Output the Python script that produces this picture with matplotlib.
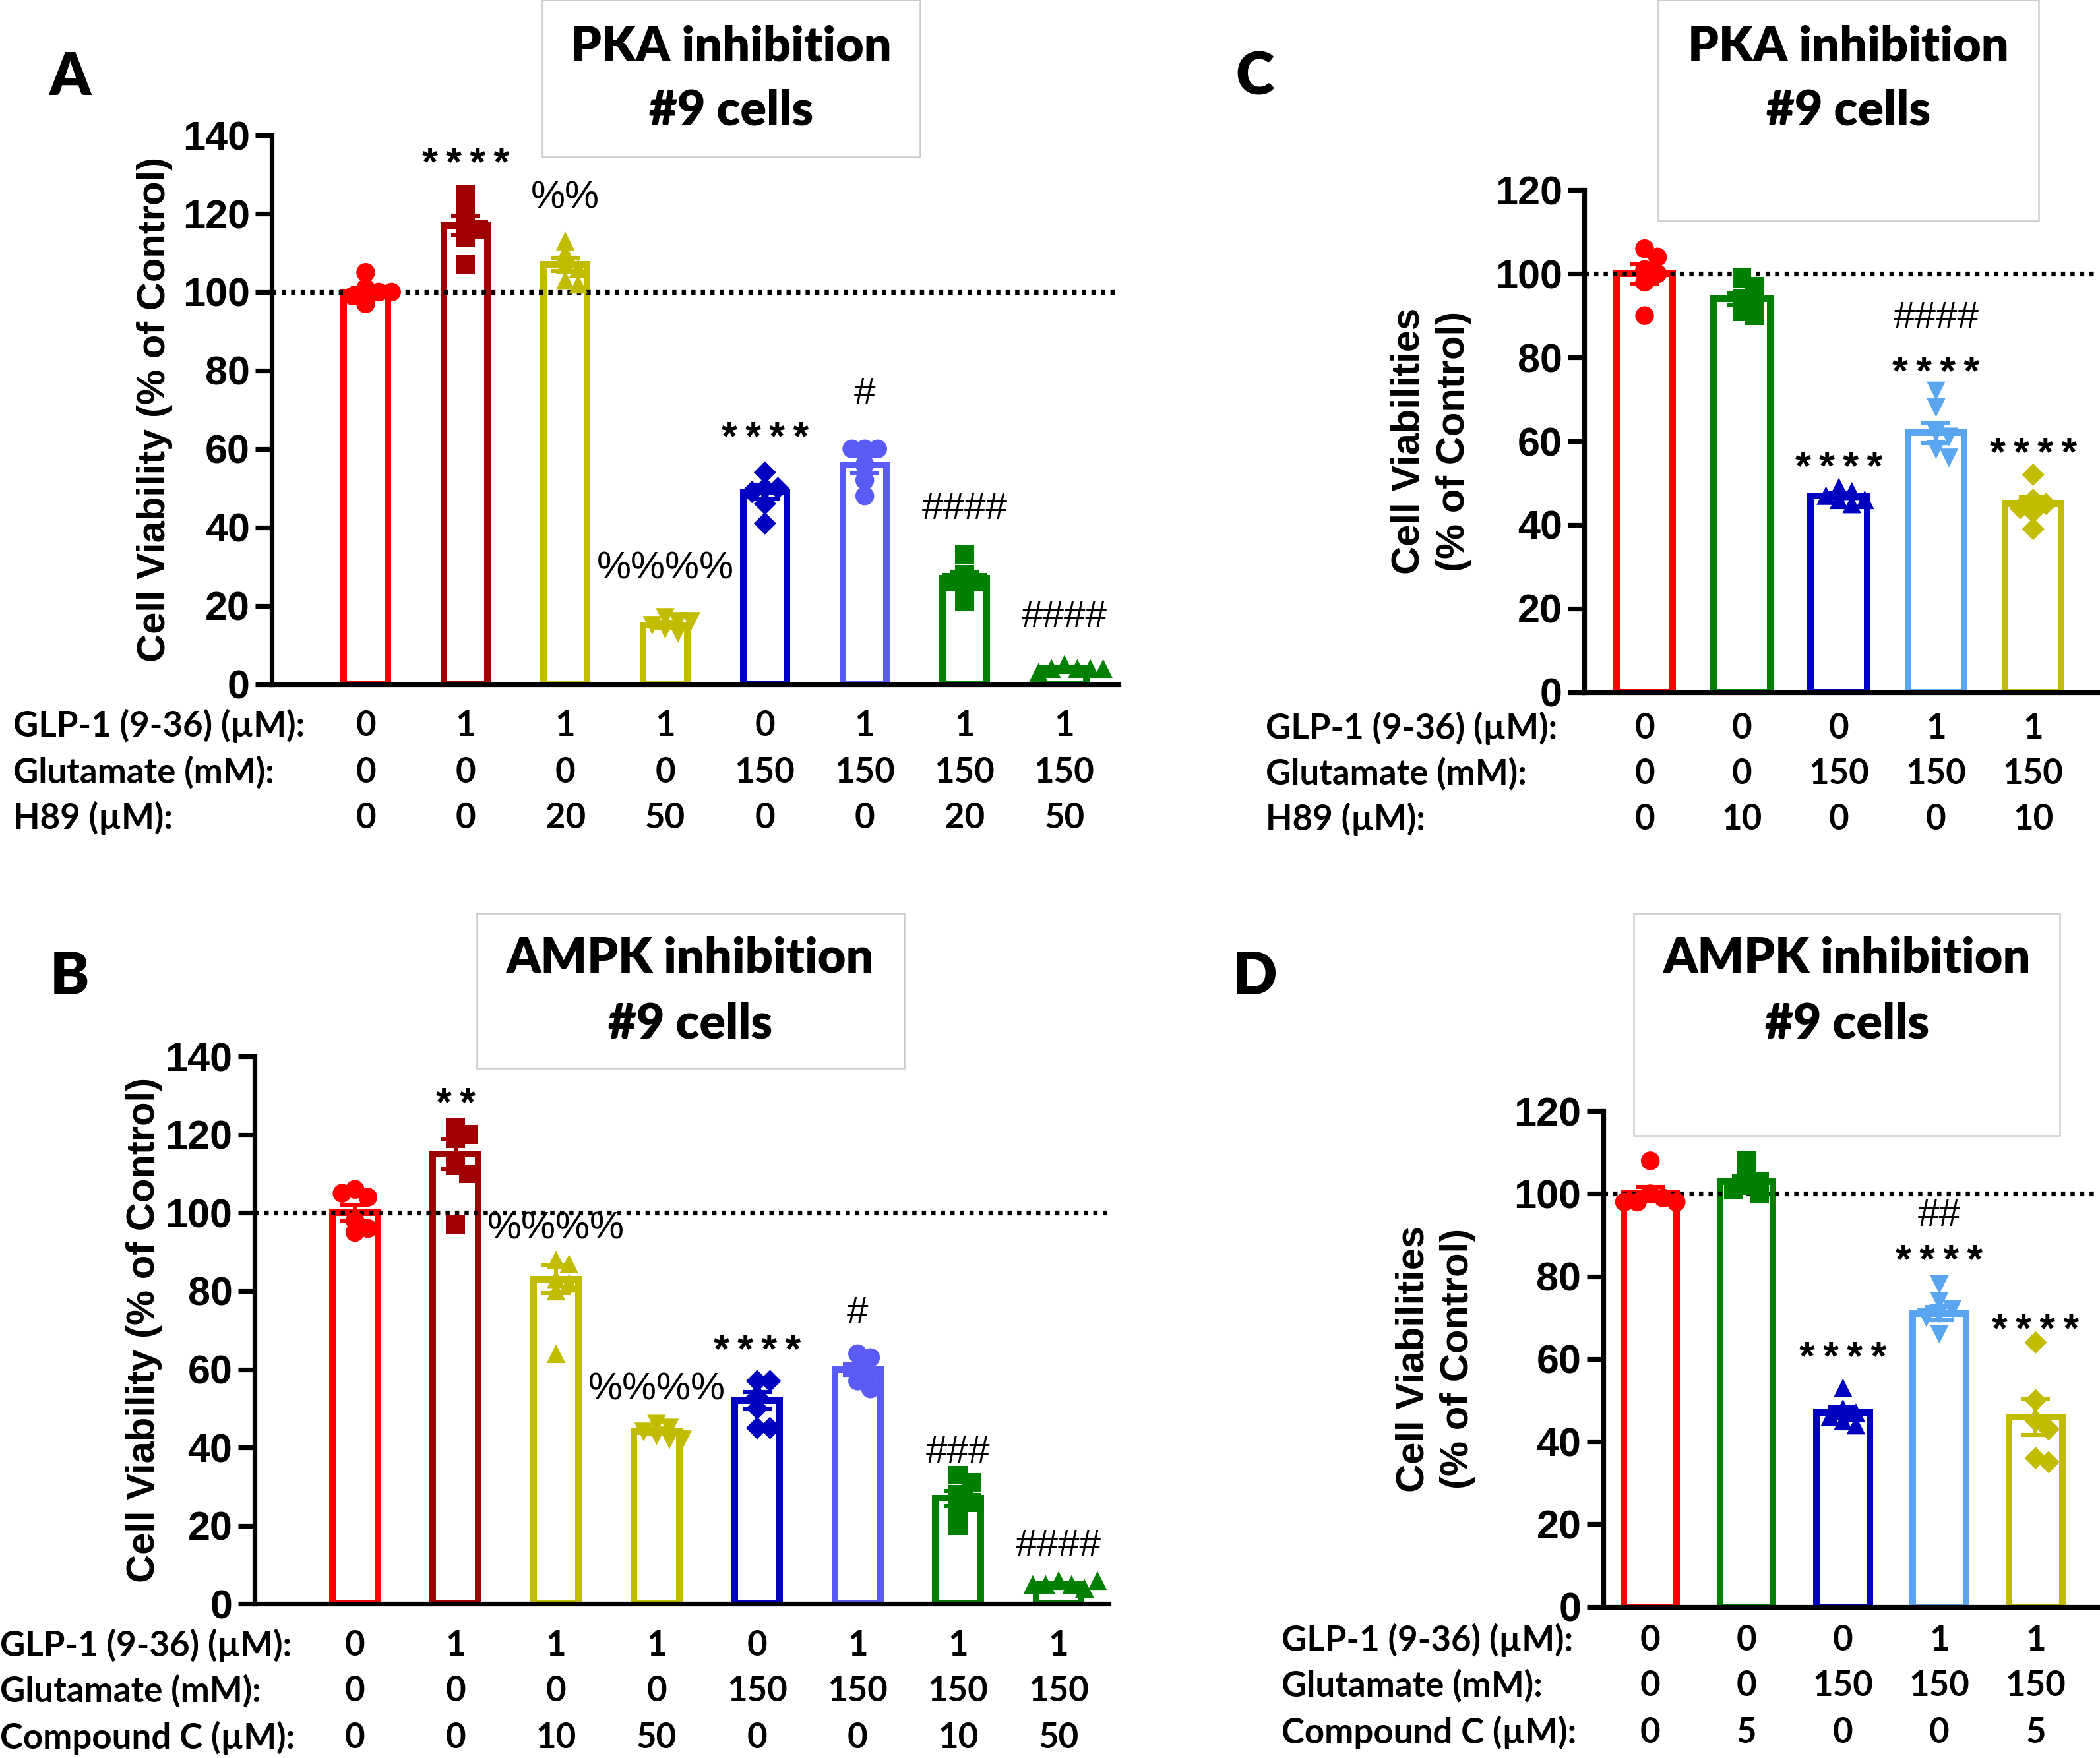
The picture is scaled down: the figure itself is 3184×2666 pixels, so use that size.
import numpy as np
import matplotlib
matplotlib.use('Agg')
import matplotlib.pyplot as plt
from matplotlib.patches import Rectangle
from matplotlib.transforms import blended_transform_factory, offset_copy

# ---------------- data ----------------
RED = '#FF0000'; DRED = '#A00000'; OLIVE = '#C2BC00'; BLUE = '#0000C0'
PERI = '#5A5AF5'; GREEN = '#008000'; SKY = '#5AA5F0'

# Panel A  (PKA inhibition, H89, 8 groups)
a_glp = ['0', '1', '1', '1', '0', '1', '1', '1']
a_glu = ['0', '0', '0', '0', '150', '150', '150', '150']
a_h89 = ['0', '0', '20', '50', '0', '0', '20', '50']
a_means = [100, 117, 107, 15, 49, 56, 27, 4]
a_points = [[105, 101, 100, 99, 97, 100], [125, 120, 117, 116, 114, 107],
            [113, 110, 107, 106, 103, 102], [17, 16, 15, 14, 13, 16],
            [54, 50, 50, 49, 46, 41], [60, 60, 60, 56, 52, 48],
            [33, 28, 26, 26, 24, 21], [5, 4, 4, 4, 3, 4]]
a_sig = ['', '****', '%%', '%%%%', '****', '#', '####', '####']
a_sig_y = [0, 135, 124, 29.4, 65, 74, 44.7, 17]

# Panel B  (AMPK inhibition, Compound C, 8 groups)
b_glp = ['0', '1', '1', '1', '0', '1', '1', '1']
b_glu = ['0', '0', '0', '0', '150', '150', '150', '150']
b_cc = ['0', '0', '10', '50', '0', '0', '10', '50']
b_means = [100, 115, 83, 44, 52, 60, 27, 5]
b_points = [[106, 104, 105, 98, 96, 95], [122, 120, 119, 112, 110, 97],
            [88, 87, 83, 82, 80, 64], [46, 45, 44, 43, 42, 42],
            [57, 57, 53, 50, 45, 45], [64, 63, 60, 59, 57, 55],
            [33, 31, 28, 26, 23, 20], [6, 5, 5, 4, 5, 6]]
b_sig = ['', '**', '%%%%', '%%%%', '****', '#', '###', '####']
b_sig_y = [0, 130, 95.9, 54.8, 67, 74.3, 38.7, 14.7]

# Panel C  (PKA inhibition, H89 10 uM, 5 groups)
c_glp = ['0', '0', '0', '1', '1']
c_glu = ['0', '0', '150', '150', '150']
c_h89 = ['0', '10', '0', '0', '10']
c_means = [100, 94, 47, 62, 45]
c_points = [[106, 104, 101, 100, 98, 90], [99, 97, 94, 93, 91, 90],
            [49, 48, 47, 46, 46, 45], [72, 68, 62, 61, 58, 56],
            [52, 46, 45, 44, 43, 39]]
c_sig = ['', '', '****', '****', '****']
c_sig_y = [0, 0, 55.7, 78.4, 59]
c_sig2 = ['', '', '', '####', '']
c_sig2_y = [0, 0, 0, 89.3, 0]

# Panel D  (AMPK inhibition, Compound C 5 uM, 5 groups)
d_glp = ['0', '0', '0', '1', '1']
d_glu = ['0', '0', '150', '150', '150']
d_cc = ['0', '5', '0', '0', '5']
d_means = [100, 103, 47, 71, 46]
d_points = [[108, 100, 99, 98, 98, 98], [108, 105, 103, 102, 101, 100],
            [53, 48, 47, 46, 45, 44], [78, 74, 72, 71, 70, 66],
            [64, 50, 45, 43, 36, 35]]
d_sig = ['', '', '****', '****', '****']
d_sig_y = [0, 0, 62.3, 85.9, 69]
d_sig2 = ['', '', '', '##', '']
d_sig2_y = [0, 0, 0, 94.7, 0]

colors8 = [RED, DRED, OLIVE, OLIVE, BLUE, PERI, GREEN, GREEN]
markers8 = ['o', 's', '^', 'v', 'D', 'o', 's', '^']
colors5 = [RED, GREEN, BLUE, SKY, OLIVE]
markers5 = ['o', 's', '^', 'v', 'D']

# ---------------- layout helpers ----------------
W, H = 1568.0, 1313.0
fig = plt.figure(figsize=(15.92, 13.33), dpi=200)


def fx(x):
    return x / W


def fy(y):
    return 1 - y / H


AR = 'Liberation Sans'
CAL = 'Lato'
THIN = '\u2009'


def swarm_offsets(ax, vals, diam_px):
    t = ax.transData
    p0 = t.transform((0, 0))
    p1 = t.transform((1, 1))
    sx = p1[0] - p0[0]
    sy = p1[1] - p0[1]
    placed = []
    offs = []
    cands = [0.0]
    for i in range(1, 12):
        cands += [i * 0.35, -i * 0.35]
    for v in vals:
        ypx = v * sy
        for c in cands:
            xpx = c * diam_px
            if all((xpx - a) ** 2 + (ypx - b) ** 2 >= (0.6 * diam_px) ** 2 for a, b in placed):
                placed.append((xpx, ypx))
                offs.append(xpx / sx)
                break
    return np.array(offs)


def sig_text(ax, x, y, s):
    if not s:
        return
    if '*' in s:
        tr = offset_copy(ax.transData, fig=fig, x=0, y=-5.5, units='points')
        ax.text(x, y, THIN.join(s), ha='center', va='center', fontsize=22,
                family=AR, fontweight='bold', transform=tr, zorder=6)
    else:
        ax.text(x, y, s, ha='center', va='center', fontsize=21,
                family=AR, zorder=6)


def panel(rect, xlim, ymax, means, points, colors, markers, barw, sig, sig_y,
          rows, row_y, label_x, ylabel, yl_x, sig2=None, sig2_y=None):
    l, r, y0, ytop = rect
    ax = fig.add_axes([fx(l), fy(y0), fx(r) - fx(l), fy(ytop) - fy(y0)])
    ax.set_xlim(*xlim)
    ax.set_ylim(0, ymax)
    xs = np.arange(len(means))
    ax.bar(xs, means, width=barw, facecolor='white', edgecolor=colors,
           linewidth=3.6, zorder=2)
    dpx = 28.0
    for i, (m, pts) in enumerate(zip(means, points)):
        pts = np.array(pts, dtype=float)
        sem = pts.std(ddof=1) / np.sqrt(len(pts))
        offs = swarm_offsets(ax, pts, dpx)
        ms = 105 if markers[i] != 'D' else 75
        ax.scatter(i + offs, pts, s=ms, marker=markers[i], color=colors[i],
                   edgecolors='none', zorder=4, clip_on=False)
        ax.errorbar(i, m, yerr=sem, fmt='none', ecolor=colors[i], elinewidth=2.2,
                    capsize=8, capthick=2.2, zorder=5)
        sig_text(ax, i, sig_y[i], sig[i])
        if sig2 is not None:
            sig_text(ax, i, sig2_y[i], sig2[i])
    ax.axhline(100, color='black', lw=2.6, ls=(0, (0.9, 1.1)), zorder=3)
    for s in ['top', 'right']:
        ax.spines[s].set_visible(False)
    for s in ['left', 'bottom']:
        ax.spines[s].set_linewidth(2.6)
    ax.set_xticks([])
    ax.set_yticks(np.arange(0, ymax + 1, 20))
    ax.tick_params(axis='y', length=9, width=2.6, pad=3)
    for lab in ax.get_yticklabels():
        lab.set_family(AR)
        lab.set_fontweight('bold')
        lab.set_fontsize(22)
    ax.set_ylabel(ylabel, family=AR, fontweight='bold', fontsize=21.5,
                  linespacing=1.3)
    ax.yaxis.set_label_coords(yl_x, 0.5)
    tr = blended_transform_factory(ax.transData, fig.transFigure)
    for (name, vals), yy in zip(rows, row_y):
        fig.text(fx(label_x), fy(yy), name, ha='left', va='center', family=CAL,
                 fontweight='bold', fontsize=19)
        for i, v in enumerate(vals):
            ax.text(i, fy(yy), v, transform=tr, ha='center', va='center',
                    family=CAL, fontweight='bold', fontsize=19)
    return ax


def title_box(x0, x1, y0, y1, line1, line2, ty1, ty2):
    fig.patches.append(Rectangle((fx(x0), fy(y1)), fx(x1) - fx(x0), fy(y0) - fy(y1),
                                 transform=fig.transFigure, fill=False,
                                 edgecolor='#CCCCCC', lw=0.9))
    xc = (x0 + x1) / 2
    fig.text(fx(xc), fy(ty1), line1, ha='center', va='center', family=CAL,
             fontweight='heavy', fontsize=26.5)
    fig.text(fx(xc), fy(ty2), line2, ha='center', va='center', family=CAL,
             fontweight='heavy', fontsize=26.5)


# Panel A
panel((203, 835, 511, 101), (-0.94, 7.54), 140, a_means, a_points, colors8, markers8,
      0.44, a_sig, a_sig_y,
      [('GLP-1 (9-36) (µM):', a_glp), ('Glutamate (mM):', a_glu), ('H89 (µM):', a_h89)],
      [542, 577, 611], 10, 'Cell Viability (% of Control)', -0.117)
# Panel B
panel((190, 828, 1198, 789), (-1.0, 7.5), 140, b_means, b_points, colors8, markers8,
      0.45, b_sig, b_sig_y,
      [('GLP-1 (9-36) (µM):', b_glp), ('Glutamate (mM):', b_glu), ('Compound C (µM):', b_cc)],
      [1229, 1263, 1298], 0, 'Cell Viability (% of Control)', -0.108)
# Panel C
panel((1183, 1566, 517, 142), (-0.62, 4.66), 120, c_means, c_points, colors5, markers5,
      0.58, c_sig, c_sig_y,
      [('GLP-1 (9-36) (µM):', c_glp), ('Glutamate (mM):', c_glu), ('H89 (µM):', c_h89)],
      [544, 578, 612], 945, 'Cell Viabilities\n(% of Control)', -0.219, c_sig2, c_sig2_y)
# Panel D
panel((1197, 1566, 1200, 830), (-0.49, 4.64), 120, d_means, d_points, colors5, markers5,
      0.55, d_sig, d_sig_y,
      [('GLP-1 (9-36) (µM):', d_glp), ('Glutamate (mM):', d_glu), ('Compound C (µM):', d_cc)],
      [1225, 1259, 1294], 957, 'Cell Viabilities\n(% of Control)', -0.257, d_sig2, d_sig2_y)

title_box(405, 687, 0, 117, 'PKA inhibition', '#9 cells', 35, 83)
title_box(356, 675, 682, 798, 'AMPK inhibition', '#9 cells', 716, 765)
title_box(1238, 1522, 0, 165, 'PKA inhibition', '#9 cells', 35, 83)
title_box(1220, 1538, 682, 848, 'AMPK inhibition', '#9 cells', 716, 765)

for let, x, y in [('A', 52, 58), ('B', 52, 730), ('C', 937, 58), ('D', 937, 730)]:
    fig.text(fx(x), fy(y), let, ha='center', va='center', family=CAL,
             fontweight='heavy', fontsize=32)

fig.savefig('out.png', dpi=200, facecolor='white')
